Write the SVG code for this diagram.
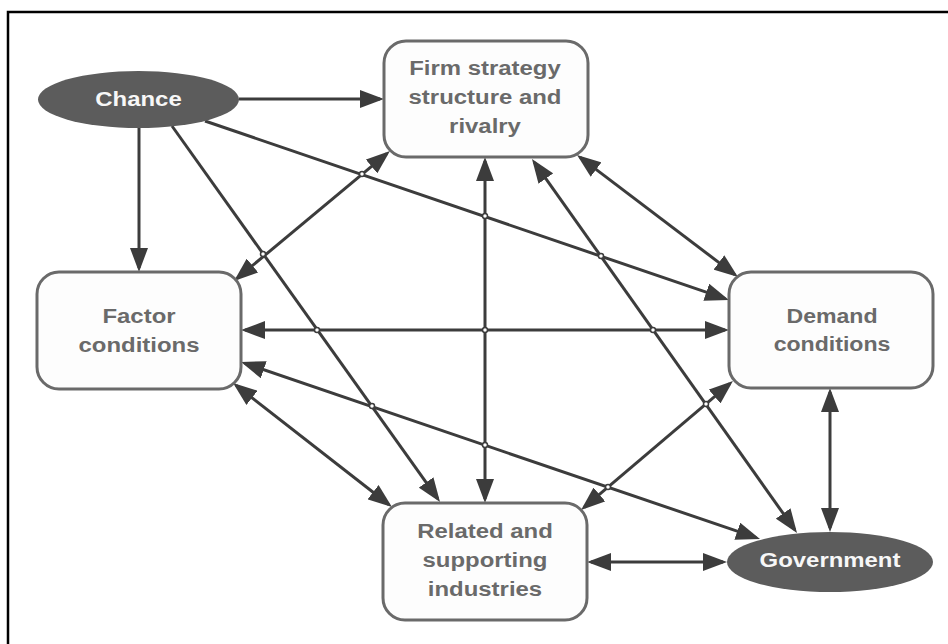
<svg xmlns="http://www.w3.org/2000/svg" width="948" height="644" viewBox="0 0 948 644">
  <defs>
    <marker id="arrow" viewBox="0 0 24 18" markerWidth="24" markerHeight="18" markerUnits="userSpaceOnUse" refX="20" refY="9" orient="auto-start-reverse">
      <path d="M0,0 L24,9 L0,18 Z" fill="#3c3c3c"/>
    </marker>
    <style>
      .frame { fill: none; stroke: #000; stroke-width: 2.5; }
      .box rect { fill: #fdfdfd; stroke: #6a6a6a; stroke-width: 3; }
      .box text { fill: #6a6a6a; font-family: "Liberation Sans", Arial, sans-serif; font-weight: bold; font-size: 21px; text-anchor: middle; }
      .oval ellipse { fill: #5c5c5c; }
      .oval text { fill: #f7f7f7; font-family: "Liberation Sans", Arial, sans-serif; font-weight: bold; font-size: 21px; text-anchor: middle; }
      .conn line { stroke: #3c3c3c; stroke-width: 3; fill: none; }
      .one { marker-end: url(#arrow); }
      .two { marker-start: url(#arrow); marker-end: url(#arrow); }
      .hop circle { fill: #fff; stroke: #3c3c3c; stroke-width: 1.5; }
    </style>
  </defs>

  <!-- page frame: only the left and top edges fall inside the view -->
  <path class="frame" d="M8,650 L8,12 L960,12"/>

  <!-- connectors -->
  <g id="connectors" class="conn">
    <line class="one" x1="239" y1="99" x2="380" y2="99"/>
    <line class="one" x1="139" y1="128" x2="139" y2="268"/>
    <line class="one" x1="172" y1="126" x2="437.7" y2="498.7"/>
    <line class="one" x1="205" y1="121" x2="725.2" y2="298.7"/>
    <line class="two" x1="386.9" y1="153.6" x2="237.1" y2="278.4"/>
    <line class="two" x1="485" y1="161" x2="485" y2="499"/>
    <line class="two" x1="534.3" y1="162.3" x2="794.7" y2="529.7"/>
    <line class="two" x1="580.2" y1="157.4" x2="734.8" y2="274.6"/>
    <line class="two" x1="245" y1="330" x2="725" y2="330"/>
    <line class="two" x1="244.8" y1="363.3" x2="756.2" y2="537.7"/>
    <line class="two" x1="236.2" y1="385.5" x2="388.8" y2="504.5"/>
    <line class="two" x1="729.9" y1="383.6" x2="584.1" y2="507.4"/>
    <line class="two" x1="830" y1="392" x2="830" y2="528"/>
    <line class="two" x1="591" y1="562" x2="723" y2="562"/>
  </g>

  <!-- line jumps at crossings -->
  <g id="hops" class="hop">
    <circle cx="263" cy="254" r="2.5"/>
    <circle cx="317" cy="330" r="2.5"/>
    <circle cx="372" cy="406" r="2.5"/>
    <circle cx="362" cy="174" r="2.5"/>
    <circle cx="485" cy="216" r="2.5"/>
    <circle cx="601" cy="256" r="2.5"/>
    <circle cx="485" cy="330" r="2.5"/>
    <circle cx="653" cy="330" r="2.5"/>
    <circle cx="485" cy="445" r="2.5"/>
    <circle cx="706" cy="404" r="2.5"/>
    <circle cx="608" cy="487" r="2.5"/>
  </g>

  <g id="chance" class="oval">
    <ellipse cx="138.5" cy="99.5" rx="100.5" ry="28.5"/>
    <text transform="translate(138.5,0) scale(1.14,1)" x="0" y="106">Chance</text>
  </g>

  <g id="firm" class="box">
    <rect x="384" y="41" width="204" height="116" rx="22"/>
    <text transform="translate(485,0) scale(1.14,1)" x="0" y="75">Firm strategy</text>
    <text transform="translate(485,0) scale(1.14,1)" x="0" y="104">structure and</text>
    <text transform="translate(485,0) scale(1.14,1)" x="0" y="133">rivalry</text>
  </g>

  <g id="factor" class="box">
    <rect x="37" y="272" width="204" height="117" rx="22"/>
    <text transform="translate(139,0) scale(1.14,1)" x="0" y="323">Factor</text>
    <text transform="translate(139,0) scale(1.14,1)" x="0" y="352">conditions</text>
  </g>

  <g id="demand" class="box">
    <rect x="729" y="272" width="204" height="116" rx="22"/>
    <text transform="translate(832,0) scale(1.1,1)" x="0" y="323">Demand</text>
    <text transform="translate(832,0) scale(1.1,1)" x="0" y="351">conditions</text>
  </g>

  <g id="related" class="box">
    <rect x="383" y="503" width="204" height="117" rx="22"/>
    <text transform="translate(485,0) scale(1.14,1)" x="0" y="538">Related and</text>
    <text transform="translate(485,0) scale(1.14,1)" x="0" y="567">supporting</text>
    <text transform="translate(485,0) scale(1.14,1)" x="0" y="596">industries</text>
  </g>

  <g id="government" class="oval">
    <ellipse cx="830" cy="562" rx="103" ry="30"/>
    <text transform="translate(830,0) scale(1.14,1)" x="0" y="567">Government</text>
  </g>
</svg>
